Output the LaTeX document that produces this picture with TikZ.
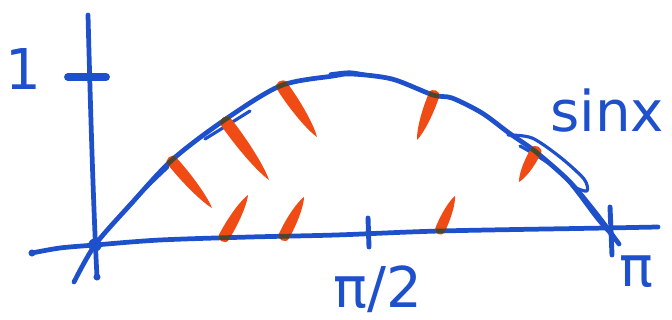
\documentclass[tikz,border=0pt]{standalone}
\usepackage{fontspec}
\newfontfamily\handfont{DejaVu Sans}
\usetikzlibrary{calc}

\definecolor{penblue}{HTML}{1E50CC}
\definecolor{penred}{HTML}{F04B14}
\definecolor{penmix}{HTML}{4A4630}

\def\sinepath{plot[smooth] coordinates {(74,282) (95,245) (130,205) (172,160) (223,121) (280,86) (333,76) (352,74) (392,79) (433,95) (452,98) (482,113) (509,133) (536,152) (569,181) (595,212) (619,244)}}
\def\axispath{plot[smooth] coordinates {(32,253) (60,248) (95,245) (160,240) (250,237) (336,235) (440,231) (606,228) (658,227)}}

\newcommand{\dab}[5]{%
  \pgfmathsetmacro\dabang{atan2(#2-#4,#3-#1)}%
  \pgfmathsetmacro\dablen{veclen(#3-#1,#4-#2)}%
  \begin{scope}[shift={(#1,#2)},rotate=\dabang]
    \def\dabshape{(0,-#5) .. controls (0.45*\dablen,-1.15*#5) and (0.85*\dablen,-0.6*#5) .. (\dablen,0)
      .. controls (0.85*\dablen,0.6*#5) and (0.45*\dablen,1.15*#5) .. (0,#5)
      .. controls (-1.2*#5,#5) and (-1.2*#5,-#5) .. (0,-#5) -- cycle}
    \fill[dabfill] \dabshape;
    \clip \dabshape;
    \begin{scope}[reset cm]
      \draw[mixink] \sinepath;
      \draw[mixink] \axispath;
    \end{scope}
  \end{scope}}

\begin{document}
\begin{tikzpicture}[x=0.02cm, y=-0.02cm,
    ink/.style={draw=penblue, line width=2.7pt, line cap=round, line join=round},
    thinink/.style={draw=penblue, line width=1.8pt, line cap=round, line join=round},
    tickmark/.style={draw=penblue, line width=2.8pt, line cap=round},
    dabfill/.style={fill=penred},
    mixink/.style={draw=penmix, line width=2.7pt, line cap=round},
    handtext/.style={text=penblue, font=\handfont\fontsize{32}{32}\selectfont,
                     inner sep=0pt, anchor=base}
]
    \useasboundingbox (0,0) rectangle (672,320);

    \coordinate (O)    at (95,245);
    \coordinate (ytop) at (88,15);
    \coordinate (ybot) at (97,277);

    \draw[ink] (ytop) .. controls (90,90) and (93,200) .. (ybot);
    \draw[ink] \axispath;
    \draw[ink] \sinepath;

    \draw[thinink] plot[smooth] coordinates {(100,238) (135,199) (168,167)};
    \draw[thinink] plot[smooth] coordinates {(205,139) (226,126) (250,111)};
    \draw[thinink] plot[smooth] coordinates {(330,74) (350,72) (368,75)};
    \draw[thinink] plot[smooth] coordinates {(508,135) (532,138) (560,157) (584,179) (587,191) (576,188)};
    \draw[thinink] plot[smooth] coordinates {(520,146) (560,172) (598,220) (616,240)};

    \draw[tickmark, line width=4.5pt] (68,77) -- (106,77);
    \draw[tickmark] (368,218) -- (369,247);
    \draw[tickmark] (610,207) -- (612,255);

    \fill[penblue] (O) circle (3.8pt);
    \fill[penblue] (ybot) circle (2pt);
    \fill[penblue] (32,253) circle (2pt);

    \dab{172}{161}{212}{208}{5.5}
    \dab{226}{122}{269}{180}{6}
    \dab{282}{86}{317}{137}{6}
    \dab{224}{237}{248}{195}{5.5}
    \dab{284}{236}{304}{197}{5.5}
    \dab{434}{95}{417}{140}{5.5}
    \dab{536}{151}{519}{182}{5.5}
    \dab{440}{230}{455}{196}{5}

    \node[handtext] (one)    at (23,90)   {1};
    \node[handtext] (halfpi) at (378,307) {π/2};
    \node[handtext] (pi)     at (636,287) {π};
    \node[handtext] (sinx)   at (607,132) {sinx};
\end{tikzpicture}
\end{document}
